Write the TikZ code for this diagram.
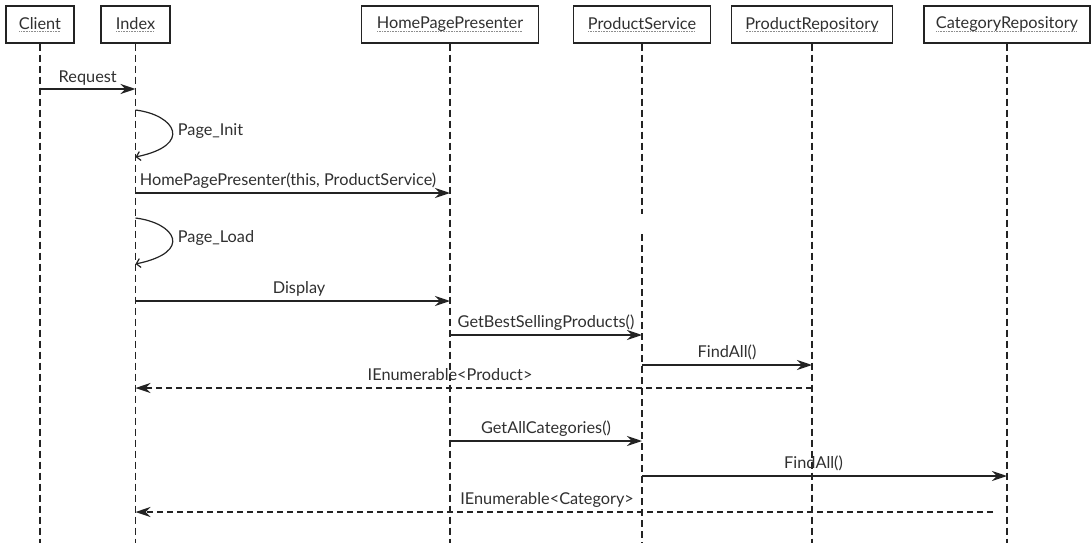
\documentclass[tikz,border=0pt]{standalone}
\usepackage{fontspec}
\setmainfont{Lato}
\usetikzlibrary{arrows.meta}
\definecolor{ink}{HTML}{232323}
\definecolor{txt}{HTML}{303030}
\newcommand\dul[1]{\setbox0\hbox{#1}\rlap{\copy0}\raisebox{-3pt}{\color{black!45}\leaders\hbox to 1.6pt{\hss\vrule width 0.9pt height 0.6pt\hss}\hskip\wd0}}
\tikzset{
  box/.style={draw=ink, line width=1.1pt, fill=white, inner sep=0pt, minimum height=37pt, text=txt, font=\fontsize{16.3}{18}\selectfont},
  life/.style={draw=ink, line width=1.1pt, dash pattern=on 7pt off 4pt},
  msg/.style={draw=ink, line width=1.9pt, -{Stealth[length=15pt, width=10pt, inset=5pt]}},
  ret/.style={draw=ink, line width=1.6pt, dash pattern=on 6pt off 4pt, -{Stealth[length=15pt, width=10pt, inset=5pt]}},
  self/.style={draw=ink, line width=1.2pt, -{Straight Barb[length=4pt, width=9pt, line width=1.2pt]}},
  lab/.style={text=txt, font=\fontsize{16.3}{18}\selectfont, inner sep=0pt, anchor=base, yshift=8pt},
  loopl/.style={text=txt, font=\fontsize{16.3}{18}\selectfont, inner sep=0pt, anchor=west, xshift=5pt}
}
\begin{document}
\begin{tikzpicture}[x=1pt, y=-1pt]
\useasboundingbox[fill=white] (0,0) rectangle (1091,543);
% header boxes
\node[box, minimum width=68pt]  (client) at (40,24.5)   {\dul{Client}};
\node[box, minimum width=69pt]  (index)  at (135.5,24.5) {\dul{Index}};
\node[box, minimum width=177pt] (hpp)    at (450,24.5)  {\dul{HomePagePresenter}};
\node[box, minimum width=137pt] (ps)     at (642,24.5)  {\dul{ProductService}};
\node[box, minimum width=161pt] (pr)     at (812,24.5)  {\dul{ProductRepository}};
\node[box, minimum width=166pt] (cr)     at (1007,24.5) {\dul{CategoryRepository}};
% rows
\coordinate (bot) at (0,543);
\coordinate (gapA) at (0,214);
\coordinate (gapB) at (0,234);
\coordinate (r1) at (0,89);
\coordinate (l1a) at (0,110);
\coordinate (l1b) at (0,157);
\coordinate (r2) at (0,193);
\coordinate (l2a) at (0,218);
\coordinate (l2b) at (0,264);
\coordinate (r3) at (0,301);
\coordinate (r4) at (0,335);
\coordinate (r5) at (0,365);
\coordinate (r6) at (0,388);
\coordinate (r7) at (0,441);
\coordinate (r8) at (0,476);
\coordinate (r9) at (0,512);
\coordinate (r9s) at (993,512);
% lifelines
\draw[life] (client.south) -- (client.south |- bot);
\draw[life] (index.south) -- (index.south |- bot);
\draw[life] (hpp.south) -- (hpp.south |- bot);
\draw[life] (ps.south) -- (ps.south |- gapA);
\draw[life] (ps.south |- gapB) -- (ps.south |- bot);
\draw[life] (pr.south) -- (pr.south |- bot);
\draw[life] (cr.south) -- (cr.south |- bot);
% messages
\draw[msg] (client |- r1) -- node[lab, yshift=-1pt]{Request} (index |- r1);
\draw[self] (index |- l1a) .. controls +(40,5) and +(58,-12) .. node[loopl, pos=0.5]{Page\_Init} (index |- l1b);
\draw[msg] (index |- r2) -- node[lab, pos=0.485]{HomePagePresenter(this, ProductService)} (hpp |- r2);
\draw[self] (index |- l2a) .. controls +(40,5) and +(58,-12) .. node[loopl, pos=0.5]{Page\_Load} (index |- l2b);
\draw[msg] (index |- r3) -- node[lab, pos=0.52]{Display} (hpp |- r3);
\draw[msg] (hpp |- r4) -- node[lab]{GetBestSellingProducts()} (ps |- r4);
\draw[msg] (ps |- r5) -- node[lab]{FindAll()} (pr |- r5);
\draw[ret] (pr |- r6) -- node[lab, pos=0.535]{IEnumerable<Product>} (index |- r6);
\draw[msg] (hpp |- r7) -- node[lab]{GetAllCategories()} (ps |- r7);
\draw[msg] (ps |- r8) -- node[lab, pos=0.47]{FindAll()} (cr |- r8);
\draw[ret] (r9s) -- node[lab, pos=0.52]{IEnumerable<Category>} (index |- r9);
\end{tikzpicture}
\end{document}
